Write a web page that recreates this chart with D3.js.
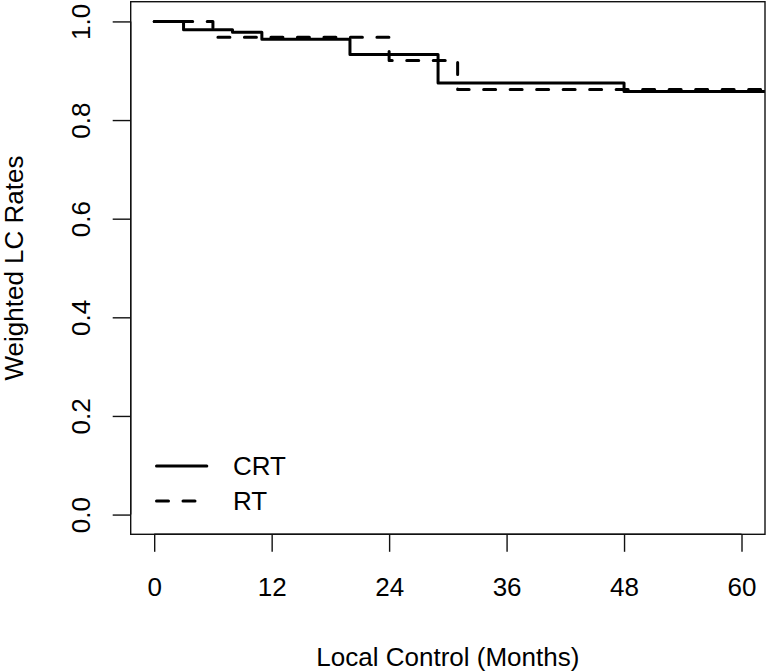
<!DOCTYPE html>
<html>
<head>
<meta charset="utf-8">
<script src="https://cdn.jsdelivr.net/npm/d3@7"></script>
<style>
  html, body { margin: 0; padding: 0; background: #fff; }
  svg { display: block; }
  text { font-family: "Liberation Sans", Arial, Helvetica, sans-serif; fill: #000; }
</style>
</head>
<body>
<script>
// ---- data ----
const seriesNames = ["CRT", "RT"];
const crtTimes = [0, 3, 8, 11, 20, 29, 48];
const crtSurv  = [1.0, 0.983, 0.978, 0.964, 0.933, 0.875, 0.858];
const rtTimes  = [0, 6, 24, 31];
const rtSurv   = [1.0, 0.968, 0.921, 0.862];
const xTickValues = [0, 12, 24, 36, 48, 60];
const yTickValues = [0.0, 0.2, 0.4, 0.6, 0.8, 1.0];
const xLabel = "Local Control (Months)";
const yLabel = "Weighted LC Rates";

// ---- layout ----
const W = 768, H = 671;
const plot = { left: 130.7, right: 765, top: 1.7, bottom: 534.3 };

const x = d3.scaleLinear().domain([-2.4, 62.4]).range([plot.left, plot.right]);
const y = d3.scaleLinear().domain([-0.04, 1.04]).range([plot.bottom, plot.top]);

const svg = d3.select("body").append("svg").attr("width", W).attr("height", H);
svg.append("rect").attr("width", W).attr("height", H).attr("fill", "#fff");

svg.append("defs").append("clipPath").attr("id", "clip")
  .append("rect").attr("x", plot.left).attr("y", plot.top)
  .attr("width", plot.right - plot.left).attr("height", plot.bottom - plot.top);

// curves
function stepData(times, surv) {
  const pts = times.map((t, i) => [t, surv[i]]);
  pts.push([x.domain()[1], surv[surv.length - 1]]);
  return pts;
}
const line = d3.line().x(d => x(d[0])).y(d => y(d[1])).curve(d3.curveStepAfter);
const lw = 3;
const dash = "12,14.5";

const g = svg.append("g").attr("clip-path", "url(#clip)");
g.append("path").datum(stepData(crtTimes, crtSurv)).attr("d", line)
  .attr("fill", "none").attr("stroke", "#000").attr("stroke-width", lw)
  .attr("stroke-linecap", "round").attr("stroke-linejoin", "round");
g.append("path").datum(stepData(rtTimes, rtSurv)).attr("d", line)
  .attr("fill", "none").attr("stroke", "#000").attr("stroke-width", lw)
  .attr("stroke-dasharray", dash)
  .attr("stroke-linecap", "round").attr("stroke-linejoin", "round");

// box
svg.append("rect").attr("x", plot.left).attr("y", plot.top)
  .attr("width", plot.right - plot.left).attr("height", plot.bottom - plot.top)
  .attr("fill", "none").attr("stroke", "#111").attr("stroke-width", 1.4);

// axes
const fs = 26;
const xAxis = d3.axisBottom(x).tickValues(xTickValues).tickSize(17.5).tickFormat(d3.format("d"));
const gx = svg.append("g").attr("transform", `translate(0,${plot.bottom})`).call(xAxis);
gx.select(".domain").attr("d", `M${x(xTickValues[0])},0H${x(xTickValues[xTickValues.length-1])}`)
  .attr("stroke", "#111").attr("stroke-width", 1.4);
gx.selectAll(".tick line").attr("stroke", "#111").attr("stroke-width", 1.4);
gx.selectAll(".tick text").attr("font-size", fs).attr("font-family", null).attr("dy", null)
  .attr("y", 61.5);

const yAxis = d3.axisLeft(y).tickValues(yTickValues).tickSize(18).tickFormat(d3.format(".1f"));
const gy = svg.append("g").attr("transform", `translate(${plot.left},0)`).call(yAxis);
gy.select(".domain").attr("d", `M0,${y(yTickValues[0])}V${y(yTickValues[yTickValues.length-1])}`)
  .attr("stroke", "#111").attr("stroke-width", 1.4);
gy.selectAll(".tick line").attr("stroke", "#111").attr("stroke-width", 1.4);
gy.selectAll(".tick text").attr("font-size", fs).attr("font-family", null)
  .attr("x", null).attr("dy", null).attr("text-anchor", "middle")
  .attr("transform", `translate(${90 - plot.left},0) rotate(-90)`);

// axis titles
svg.append("text").attr("x", (plot.left + plot.right) / 2).attr("y", 666)
  .attr("text-anchor", "middle").attr("font-size", fs).text(xLabel);
svg.append("text").attr("transform", `translate(23,${(plot.top + plot.bottom) / 2}) rotate(-90)`)
  .attr("text-anchor", "middle").attr("font-size", fs).text(yLabel);

// legend
const legY = [466, 501];
const legX0 = 156.5, legX1 = 206.8, legTextX = 233;
seriesNames.forEach((name, i) => {
  svg.append("line").attr("x1", legX0).attr("x2", legX1).attr("y1", legY[i]).attr("y2", legY[i])
    .attr("stroke", "#000").attr("stroke-width", lw).attr("stroke-linecap", "round")
    .attr("stroke-dasharray", i === 1 ? dash : null);
  svg.append("text").attr("x", legTextX).attr("y", legY[i] + 9.3)
    .attr("font-size", fs).text(name);
});
</script>
</body>
</html>
